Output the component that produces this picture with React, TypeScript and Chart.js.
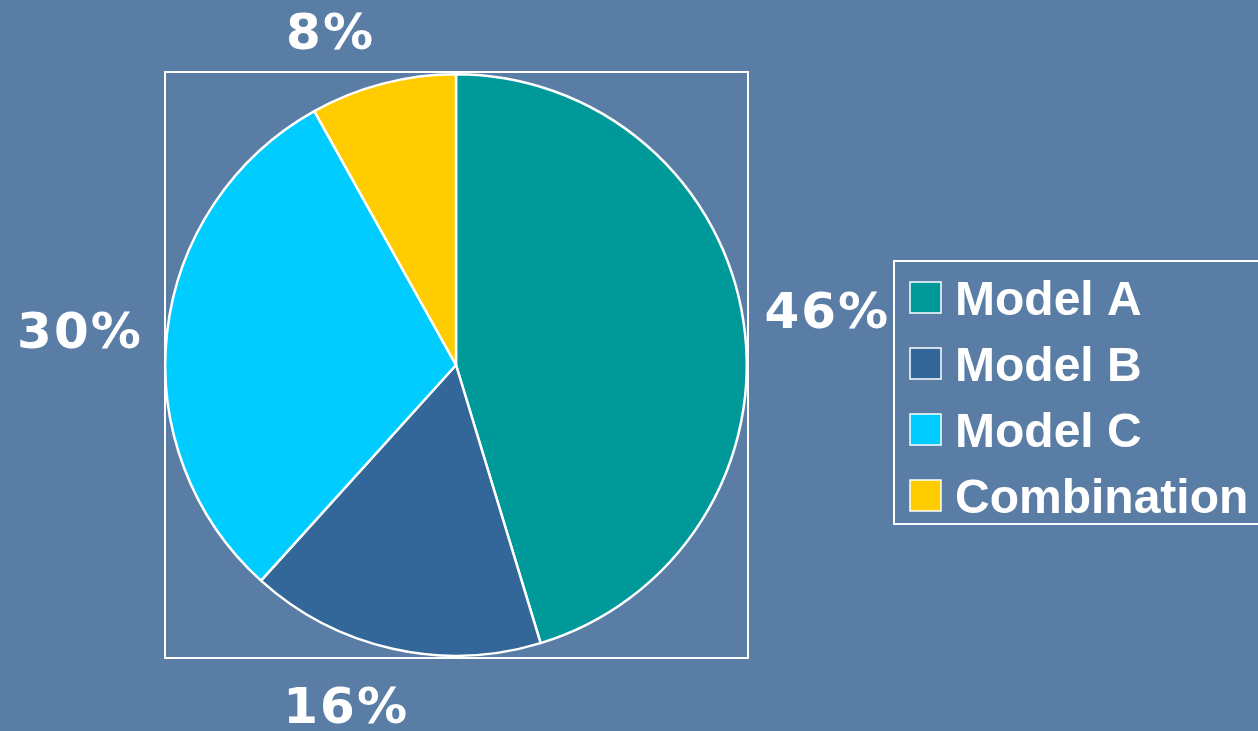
import React, { useEffect, useRef } from "react";
import { Chart, registerables } from "chart.js";

Chart.register(...registerables);

const categories = ["Model A", "Model B", "Model C", "Combination"];
const shares = [45.3, 16.4, 30.2, 8.1];
const shareLabels = ["46%", "16%", "30%", "8%"];
const sliceColors = ["#009999", "#336699", "#00CCFF", "#FFCC00"];

const BG = "#5a7da6";

const decorPlugin = {
  id: "decor",
  afterDraw(chart: any, _args: any, opts: any) {
    const ctx = chart.ctx as CanvasRenderingContext2D;
    const ca = chart.chartArea;
    const meta = chart.getDatasetMeta(0);
    ctx.save();
    // plot area box
    ctx.strokeStyle = "#ffffff";
    ctx.lineWidth = 2;
    ctx.strokeRect(ca.left + 1, ca.top - 1, ca.right - ca.left - 1, ca.bottom - ca.top + 2);

    // percent labels
    ctx.fillStyle = "#ffffff";
    ctx.font = "bold 50px 'DejaVu Sans'";
    (ctx as any).letterSpacing = "2px";
    ctx.textAlign = "left";
    ctx.textBaseline = "alphabetic";
    meta.data.forEach((arc: any, i: number) => {
      const mid = (arc.startAngle + arc.endAngle) / 2;
      const r = arc.outerRadius + 40;
      const text = shareLabels[i];
      const w = ctx.measureText(text).width;
      const h = 36;
      const cos = Math.cos(mid);
      const sin = Math.sin(mid);
      const nudge = opts.nudges[i] || [0, 0];
      const cx = arc.x + r * cos + (w / 2) * cos + nudge[0];
      const cy = arc.y + r * sin + (h / 2) * sin + nudge[1];
      ctx.fillText(text, cx - w / 2 + 1, cy + h / 2);
    });
    (ctx as any).letterSpacing = "0px";

    // legend
    const lx = 893;
    const ly = 260;
    ctx.lineWidth = 2;
    ctx.strokeStyle = "#ffffff";
    ctx.strokeRect(lx + 1, ly + 1, 420, 263);
    ctx.font = "bold 48px 'Liberation Sans', Arial, sans-serif";
    categories.forEach((name, i) => {
      const rowTop = ly + 22 + i * 66;
      ctx.fillStyle = sliceColors[i];
      ctx.fillRect(lx + 17, rowTop, 31, 31);
      ctx.strokeStyle = "#ffffff";
      ctx.lineWidth = 1.5;
      ctx.strokeRect(lx + 17, rowTop, 31, 31);
      ctx.fillStyle = "#ffffff";
      ctx.fillText(name, lx + 62, rowTop + 33);
    });
    ctx.restore();
  },
};

export default function App() {
  const ref = useRef<HTMLCanvasElement>(null);
  useEffect(() => {
    if (!ref.current) return;
    const chart = new Chart(ref.current, {
      type: "pie",
      data: {
        labels: categories,
        datasets: [
          {
            data: shares,
            backgroundColor: sliceColors,
            borderColor: "#ffffff",
            borderWidth: 2.5,
          },
        ],
      },
      options: {
        animation: false,
        responsive: false,
        devicePixelRatio: 1,
        layout: { padding: { left: 164, top: 73, right: 510, bottom: 74 } },
        plugins: {
          legend: { display: false },
          tooltip: { enabled: false },
          decor: {
            nudges: [
              [-19, -4],
              [-25, 0],
              [14, 4],
              [-32, 4],
            ],
          },
        } as any,
      },
      plugins: [decorPlugin],
    });
    return () => chart.destroy();
  }, []);
  return (
    <div
      style={{
        position: "fixed",
        left: 0,
        top: 0,
        width: 1258,
        height: 731,
        background: BG,
        overflow: "hidden",
      }}
    >
      <canvas ref={ref} width={1258} height={731} style={{ display: "block" }} />
    </div>
  );
}
